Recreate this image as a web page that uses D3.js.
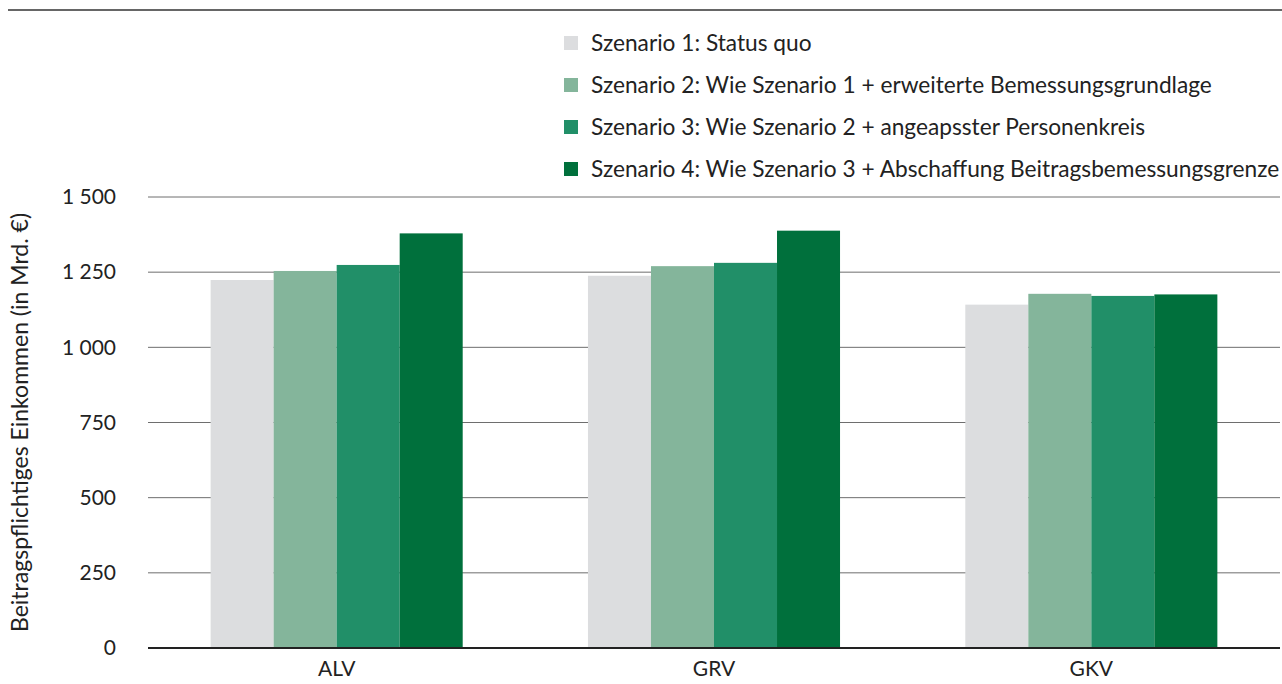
<!DOCTYPE html>
<html>
<head>
<meta charset="utf-8">
<script src="https://cdn.jsdelivr.net/npm/d3@7"></script>
<style>
  body { margin: 0; background: #fff; }
  svg { display: block; font-family: Lato, "Noto Sans", sans-serif; }
</style>
</head>
<body>
<svg id="chart" width="1282" height="684"></svg>
<script>
// Daten
var categories = ["ALV", "GRV", "GKV"];
var scenarios = [
  "Szenario 1: Status quo",
  "Szenario 2: Wie Szenario 1 + erweiterte Bemessungsgrundlage",
  "Szenario 3: Wie Szenario 2 + angeapsster Personenkreis",
  "Szenario 4: Wie Szenario 3 + Abschaffung Beitragsbemessungsgrenze"
];
var scenario1 = [1224, 1238, 1142];
var scenario2 = [1254, 1270, 1178];
var scenario3 = [1274, 1281, 1171];
var scenario4 = [1379, 1388, 1176];
var yTicks = [0, 250, 500, 750, 1000, 1250, 1500];
var colors = ["#dcdddf", "#84b59b", "#218f68", "#00703c"];

(function() {
  var series = [scenario1, scenario2, scenario3, scenario4];

  var svg = d3.select("#chart");
  var mLeft = 148, mRight = 1280, mTop = 197, mBottom = 648;

  // obere Linie
  svg.append("line")
    .attr("x1", 8).attr("x2", 1282)
    .attr("y1", 10).attr("y2", 10)
    .attr("stroke", "#666").attr("stroke-width", 2);

  var x0 = d3.scaleBand().domain(categories).range([mLeft, mRight])
    .paddingInner(0.332).paddingOuter(0.166);
  var x1 = d3.scaleBand().domain(d3.range(series.length)).range([0, x0.bandwidth()]);
  var y = d3.scaleLinear().domain([0, 1500]).range([mBottom, mTop]);

  // Gitter
  svg.append("g")
    .selectAll("line")
    .data(yTicks.filter(d => d > 0))
    .join("line")
    .attr("x1", mLeft).attr("x2", mRight)
    .attr("y1", d => y(d)).attr("y2", d => y(d))
    .attr("stroke", "#6e6e6e").attr("stroke-width", 1);

  // Balken
  var groups = svg.append("g")
    .selectAll("g")
    .data(categories)
    .join("g")
    .attr("transform", d => `translate(${x0(d)},0)`);

  groups.selectAll("rect")
    .data((c, ci) => series.map((s, si) => ({ si: si, v: s[ci] })))
    .join("rect")
    .attr("x", d => x1(d.si))
    .attr("width", x1.bandwidth())
    .attr("y", d => y(d.v))
    .attr("height", d => y(0) - y(d.v))
    .attr("fill", d => colors[d.si]);

  // Nulllinie
  svg.append("line")
    .attr("x1", mLeft).attr("x2", mRight)
    .attr("y1", y(0)).attr("y2", y(0))
    .attr("stroke", "#222").attr("stroke-width", 2);

  // y-Achse
  svg.append("g")
    .attr("transform", `translate(${mLeft - 32},0)`)
    .call(d3.axisLeft(y).tickValues(yTicks).tickSize(0).tickPadding(0)
      .tickFormat(d => d3.format(",")(d).replace(",", " ")))
    .call(g => g.select(".domain").remove())
    .selectAll("text")
    .attr("font-size", 21).attr("fill", "#222")
    .attr("font-family", "Lato, sans-serif");

  // x-Achse
  svg.append("g")
    .attr("transform", `translate(0,${mBottom})`)
    .call(d3.axisBottom(x0).tickSize(0).tickPadding(13))
    .call(g => g.select(".domain").remove())
    .selectAll("text")
    .attr("font-size", 21).attr("fill", "#222")
    .attr("font-family", "Lato, sans-serif");

  // y-Titel
  svg.append("text")
    .attr("transform", `translate(28,${(mTop + mBottom) / 2}) rotate(-90)`)
    .attr("text-anchor", "middle")
    .attr("font-size", 23).attr("fill", "#222")
    .text("Beitragspflichtiges Einkommen (in Mrd. €)");

  // Legende
  var legend = svg.append("g")
    .selectAll("g")
    .data(scenarios)
    .join("g")
    .attr("transform", (d, i) => `translate(564,${36 + i * 42})`);

  legend.append("rect")
    .attr("width", 14).attr("height", 14)
    .attr("fill", (d, i) => colors[i]);

  legend.append("text")
    .attr("x", 27).attr("y", 15)
    .attr("font-size", 22.7).attr("fill", "#222")
    .text(d => d);
})();
</script>
</body>
</html>
